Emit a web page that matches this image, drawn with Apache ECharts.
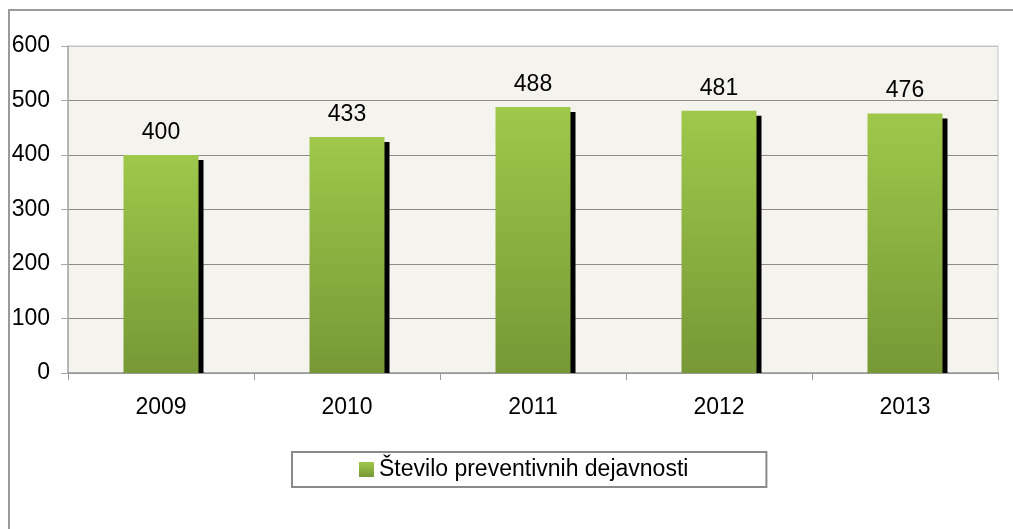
<!DOCTYPE html>
<html>
<head>
<meta charset="utf-8">
<script src="https://cdn.jsdelivr.net/npm/echarts@6/dist/echarts.min.js"></script>
<style>
html,body{margin:0;padding:0;background:#fff;}
#chart{width:1013px;height:529px;}
</style>
</head>
<body>
<div id="chart"></div>
<script>
const categories = ['2009', '2010', '2011', '2012', '2013'];
const values = [400, 433, 488, 481, 476];
const seriesName = 'Število preventivnih dejavnosti';
const yTicks = [0, 100, 200, 300, 400, 500, 600];

const FONT = 'Liberation Sans, Arial, sans-serif';
const FS = 23;
const chart = echarts.init(document.getElementById('chart'));
const BAR_W = 75;
const gradient = new echarts.graphic.LinearGradient(0, 0, 0, 1, [
  {offset: 0, color: '#9fc84b'},
  {offset: 1, color: '#779836'}
]);

chart.setOption({
  backgroundColor: '#ffffff',
  animation: false,
  textStyle: {fontFamily: FONT},
  graphic: [
    {type: 'polyline', shape: {points: [[9, 540], [9, 10], [1030, 10]]},
     style: {stroke: '#9a9a9a', lineWidth: 2, fill: null}, z: 0}
  ],
  grid: {
    left: 68, right: 15, top: 46, bottom: 156,
    show: true, backgroundColor: '#f4f3ee', borderColor: '#c4c4c4', borderWidth: 1,
    containLabel: false
  },
  legend: {
    data: [seriesName],
    left: 292, top: 452,
    padding: [6, 78, 6, 67],
    itemWidth: 15, itemHeight: 15, itemGap: 10,
    borderColor: '#8a8a8a', borderWidth: 2,
    icon: 'rect',
    textStyle: {fontSize: FS, color: '#000', fontFamily: FONT}
  },
  xAxis: {
    type: 'category',
    data: categories,
    axisLine: {lineStyle: {color: '#9a9a9a', width: 1.5}},
    axisTick: {show: true, length: 7, lineStyle: {color: '#9a9a9a'}},
    axisLabel: {fontSize: FS, color: '#000', margin: 23, fontFamily: FONT},
    splitLine: {show: false}
  },
  yAxis: {
    type: 'value',
    min: yTicks[0], max: yTicks[yTicks.length - 1], interval: 100,
    axisLine: {show: true, lineStyle: {color: '#a8a8a8', width: 1.5}},
    axisTick: {show: true, length: 7, lineStyle: {color: '#a8a8a8'}},
    axisLabel: {fontSize: FS, color: '#000', margin: 18, fontFamily: FONT},
    splitLine: {show: true, lineStyle: {color: ['#8c8c8c','#8c8c8c','#8c8c8c','#8c8c8c','#8c8c8c','#8c8c8c','#c4c4c4'], width: 1}}
  },
  series: [
    {
      type: 'custom',
      name: 'shadow',
      z: 1,
      silent: true,
      data: values.map((v, i) => [i, v]),
      renderItem: function (params, api) {
        const top = api.coord([api.value(0), api.value(1)]);
        const base = api.coord([api.value(0), 0]);
        const x = top[0] - BAR_W / 2 + 5;
        const y = top[1] + 5;
        return {
          type: 'rect',
          shape: {x: x, y: y, width: BAR_W, height: base[1] - y},
          style: {fill: '#000'}
        };
      }
    },
    {
      type: 'bar',
      name: seriesName,
      z: 2,
      data: values,
      barWidth: BAR_W,
      itemStyle: {color: gradient},
      label: {show: true, position: 'top', distance: 11, fontSize: FS, color: '#000', fontFamily: FONT}
    }
  ]
});
</script>
</body>
</html>
